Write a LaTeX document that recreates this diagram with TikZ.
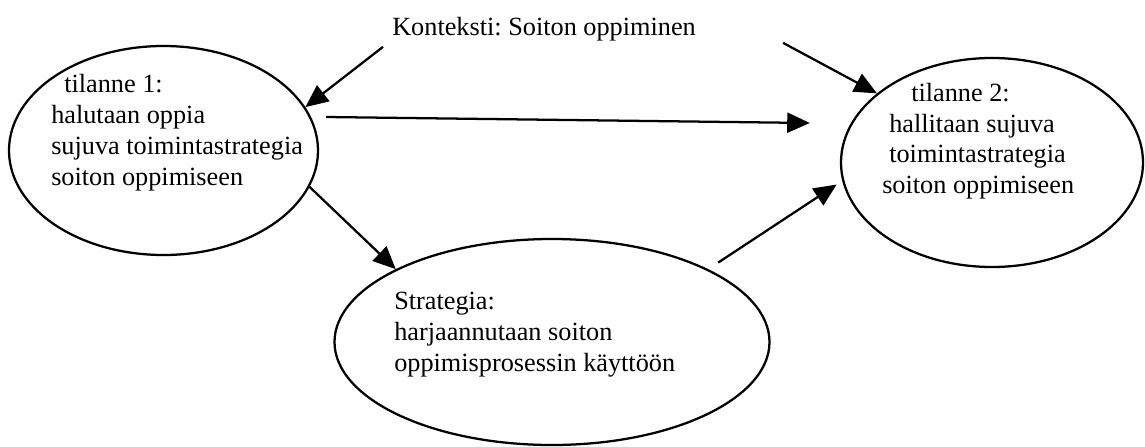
\documentclass[tikz,border=0pt]{standalone}
\usepackage{fontspec}
\setmainfont{Liberation Serif}
\usetikzlibrary{arrows.meta,shapes.geometric}
\frenchspacing

\tikzset{
  oval/.style={draw, ellipse, inner sep=0pt, line width=1.7pt},
  lbl/.style={inner sep=0pt, anchor=base west, align=left,
    font=\fontsize{19.7pt}{23.25pt}\selectfont},
  arr/.style={line width=1.7pt, -{Triangle[length=17pt,width=15pt]}}
}

\begin{document}
\begin{tikzpicture}[x=0.75pt, y=-0.75pt]
  \useasboundingbox (0,0) rectangle (1145,446);

  % the three situations
  \node[oval, minimum width=231.75pt, minimum height=156.75pt] (e1) at (163.5,150.5) {};
  \node[oval, minimum width=226.5pt, minimum height=156.75pt] (e2) at (992,162.5) {};
  \node[oval, minimum width=326.25pt, minimum height=154.5pt] (e3) at (552,342) {};

  % texts (anchored at the baseline of their last line)
  \node[lbl] (k) at (392,36) {Konteksti: Soiton oppiminen};
  \node[lbl] (t1) at (51,185) {\hspace*{9.75pt}tilanne 1:\\halutaan oppia\\sujuva toimintastrategia\\soiton oppimiseen};
  \node[lbl, font=\fontsize{19.7pt}{22.9pt}\selectfont] (t2) at (882,193.5) {\hspace*{21.75pt}tilanne 2:\\\hspace*{5.25pt}hallitaan sujuva\\\hspace*{5.25pt}toimintastrategia\\soiton oppimiseen};
  \node[lbl] (t3) at (394,371) {Strategia:\\harjaannutaan soiton\\oppimisprosessin käyttöön};

  % connectors
  \draw[arr] ([shift={(-9,5)}]k.south west) -- (e1.17.3);
  \draw[arr] ([shift={(87,1)}]k.south east) -- (e2.149.2);
  \draw[arr] ([shift={(7,-33.5)}]e1.east) -- ([shift={(-30,-39.5)}]e2.west);
  \draw[arr] (e1.-14.4) -- (e3.155.7);
  \draw[arr, shorten <=9pt, shorten >=5pt] (e3.25.2) -- (e2.187.5);
\end{tikzpicture}
\end{document}
